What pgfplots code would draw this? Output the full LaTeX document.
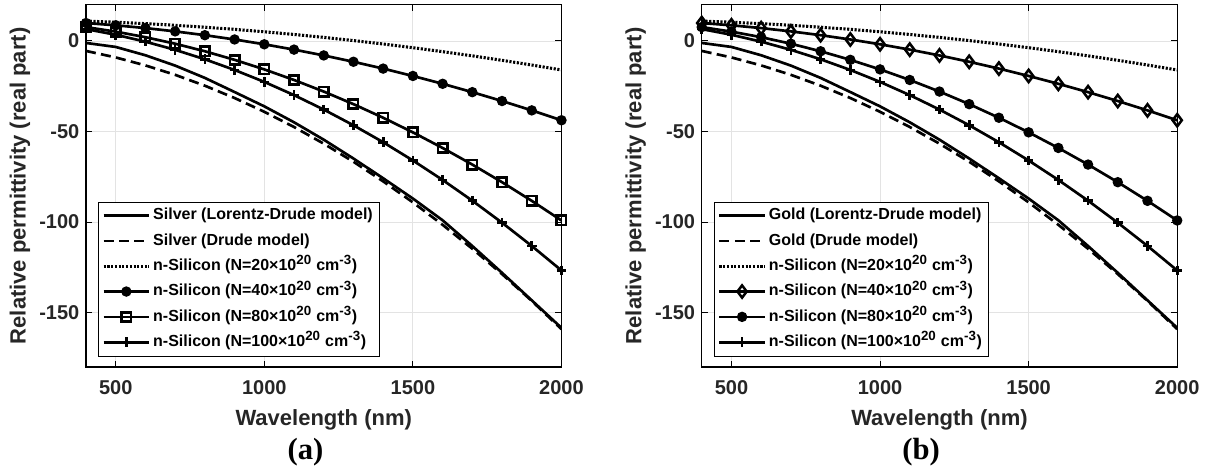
\documentclass[border=0pt]{standalone}
\usepackage{pgfplots}
\usepackage{pgfplotstable}
\pgfplotsset{compat=1.18}
\usepackage{fontspec}
\setmainfont{Liberation Sans}
\newfontfamily\serifbold{Liberation Serif}
\definecolor{txt}{HTML}{262626}
\definecolor{gridc}{HTML}{E3E3E3}

\pgfplotstableread{
lam si20 si40 si80 si100 ld dr
400 10.98 9.90 7.65 6.55 -1.1 -5.5
500 10.34 8.64 5.15 3.42 -3.3 -9.1
600 9.57 7.11 2.09 -0.39 -7.9 -13.5
700 8.66 5.29 -1.52 -4.90 -13.6 -18.7
800 7.60 3.19 -5.69 -10.11 -20.4 -24.7
900 6.41 0.82 -10.42 -16.01 -28.2 -31.5
1000 5.07 -1.84 -15.70 -22.60 -36.1 -39.1
1100 3.59 -4.78 -21.54 -29.89 -44.9 -47.5
1200 1.98 -7.99 -27.93 -37.87 -54.5 -56.7
1300 0.22 -11.49 -34.88 -46.54 -64.9 -66.7
1400 -1.68 -15.26 -42.39 -55.91 -75.8 -77.5
1500 -3.72 -19.32 -50.45 -65.98 -87.0 -89.1
1600 -5.90 -23.65 -59.07 -76.73 -99.0 -101.5
1700 -8.22 -28.26 -68.24 -88.18 -113.2 -114.7
1800 -10.68 -33.16 -77.97 -100.33 -128.0 -128.7
1900 -13.28 -38.33 -88.26 -113.17 -143.2 -143.5
2000 -16.02 -43.78 -99.10 -126.70 -158.4 -159.1
}\data

\pgfplotsset{
 panel/.style={
  scale only axis, width=356.6pt, height=271.7pt,
  xmin=400, xmax=2000, ymin=-180, ymax=20,
  xtick={500,1000,1500,2000}, ytick={-150,-100,-50,0},
  grid=major, major grid style={gridc, line width=0.6pt},
  axis line style={black, line width=0.8pt},
  tick align=inside, major tick length=4.5pt,
  every tick/.style={black, line width=0.8pt},
  tick label style={font=\bfseries\fontsize{15}{18}\selectfont, text=txt},
  /pgf/number format/assume math mode=true,
  /pgf/number format/1000 sep={},
  xticklabel style={anchor=center, yshift=-15.75pt},
  yticklabel style={anchor=east, xshift=-1.5pt},
  label style={font=\bfseries\fontsize{16.5}{19}\selectfont, text=txt},
  xlabel={Wavelength (nm)}, ylabel={Relative permittivity (real part)},
  xlabel style={at={(axis description cs:0.5,-0.146)}, anchor=center},
  ylabel style={at={(axis description cs:-0.139,0.5)}, anchor=center},
  legend style={at={(0.025,0.03)}, anchor=south west, draw=black,
    font=\bfseries\fontsize{12}{14}\selectfont, cells={anchor=west},
    nodes={text height=9.5pt, text depth=3pt, inner ysep=0pt},
    row sep=6.5pt, inner xsep=3pt, inner ysep=4pt},
  legend image code/.code={\draw[mark repeat=2,mark phase=2] plot coordinates {(0pt,0pt) (17pt,0pt) (34pt,0pt)};},
 },
 base/.style={black, line width=2pt},
 solidsty/.style={base, solid, mark=none},
 dotsty/.style={base, mark=none, line width=2.3pt, dash pattern=on 1.6pt off 1.2pt},
 dashsty/.style={base, mark=none, dash pattern=on 7.5pt off 4pt},
 circsty/.style={base, mark=*, mark size=3.4pt, mark options={solid, fill=black, line width=1pt}},
 sqsty/.style={base, mark=square, mark size=3.5pt, mark options={solid, line width=2pt}},
 plussty/.style={base, mark=+, mark size=3.6pt, mark options={solid, line width=2pt}},
 diasty/.style={base, mark=diamond, mark size=4.6pt, mark options={solid, line width=1.9pt}},
}
\newcommand{\si}[1]{n-Silicon (N=#1×10\textsuperscript{\fontsize{10}{12}\selectfont 20} cm\textsuperscript{\fontsize{10}{12}\selectfont -3})}

\begin{document}
\begin{tikzpicture}
\useasboundingbox (0,0) rectangle (904.5pt,351.75pt);
\begin{axis}[panel, at={(64.5pt,76.5pt)}, anchor=south west]
\addplot[solidsty] table[x=lam,y=ld] {\data};
\addlegendentry{Silver (Lorentz-Drude model)}
\addplot[dashsty] table[x=lam,y=dr] {\data};
\addlegendentry{Silver (Drude model)}
\addplot[dotsty] table[x=lam,y=si20] {\data};
\addlegendentry{\si{20}}
\addplot[circsty] table[x=lam,y=si40] {\data};
\addlegendentry{\si{40}}
\addplot[sqsty] table[x=lam,y=si80] {\data};
\addlegendentry{\si{80}}
\addplot[plussty] table[x=lam,y=si100] {\data};
\addlegendentry{\si{100}}
\end{axis}
\begin{axis}[panel, at={(526.3pt,76.5pt)}, anchor=south west]
\addplot[solidsty] table[x=lam,y=ld] {\data};
\addlegendentry{Gold (Lorentz-Drude model)}
\addplot[dashsty] table[x=lam,y=dr] {\data};
\addlegendentry{Gold (Drude model)}
\addplot[dotsty] table[x=lam,y=si20] {\data};
\addlegendentry{\si{20}}
\addplot[diasty] table[x=lam,y=si40] {\data};
\addlegendentry{\si{40}}
\addplot[circsty] table[x=lam,y=si80] {\data};
\addlegendentry{\si{80}}
\addplot[plussty] table[x=lam,y=si100] {\data};
\addlegendentry{\si{100}}
\end{axis}
\node[font=\serifbold\bfseries\fontsize{23}{27}\selectfont] at (229.1pt,12.75pt) {(a)};
\node[font=\serifbold\bfseries\fontsize{23}{27}\selectfont] at (690.9pt,12.75pt) {(b)};
\end{tikzpicture}
\end{document}
